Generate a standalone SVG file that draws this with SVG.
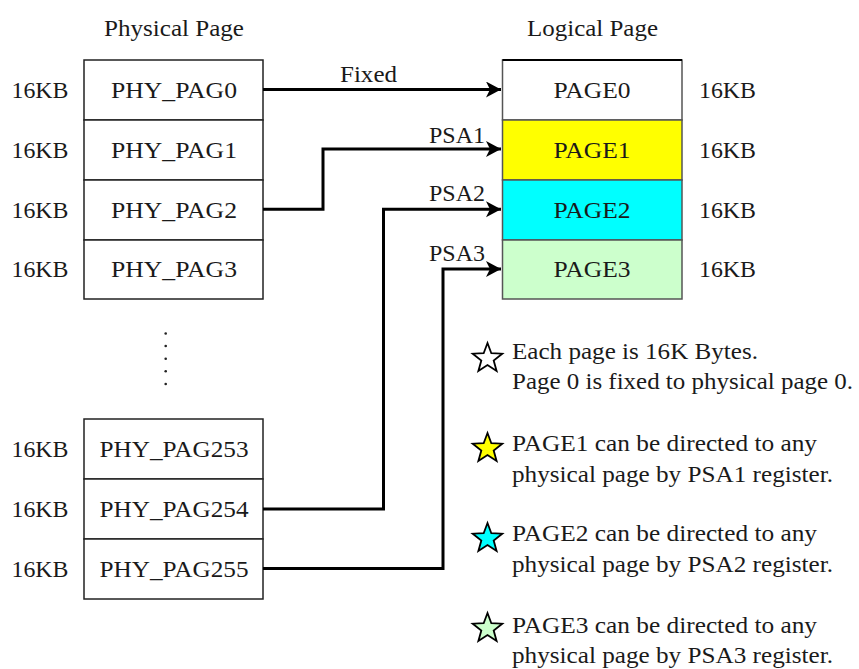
<svg xmlns="http://www.w3.org/2000/svg" width="859" height="669" viewBox="0 0 859 669">
<style>
text{font-family:"Liberation Serif","Times New Roman",serif;font-size:23px;fill:#1a1a1a}
.m{text-anchor:middle}
.e{text-anchor:end}
.cell{stroke:#222;stroke-width:1.5}
.lcell{stroke:#555;stroke-width:1.5}
.conn{fill:none;stroke:#000;stroke-width:3}
.star{stroke:#000;stroke-width:1.8;stroke-linejoin:miter}
</style>
<defs>
<marker id="arr" markerUnits="userSpaceOnUse" markerWidth="16" markerHeight="18" refX="15" refY="8" orient="auto">
<path d="M0,0 L15,8 L0,16 L4,8 z" fill="#000"/>
</marker>
<path id="star" d="M0,-15.5 L3.82,-5.26 L14.74,-4.79 L6.18,2.01 L9.11,12.54 L0,6.5 L-9.11,12.54 L-6.18,2.01 L-14.74,-4.79 L-3.82,-5.26 Z"/>
</defs>
<rect width="859" height="669" fill="#fff"/>
<text class="m" x="174" y="36" textLength="140" lengthAdjust="spacingAndGlyphs">Physical Page</text>
<text class="m" x="592.5" y="36" textLength="131" lengthAdjust="spacingAndGlyphs">Logical Page</text>
<g id="phy0"><rect class="cell" x="84" y="60" width="179" height="60" fill="#fff"/><text class="m" x="174" y="97.5" textLength="126" lengthAdjust="spacingAndGlyphs">PHY_PAG0</text><text x="11.5" y="97.5" textLength="57" lengthAdjust="spacingAndGlyphs">16KB</text></g>
<g id="phy1"><rect class="cell" x="84" y="120" width="179" height="60" fill="#fff"/><text class="m" x="174" y="157.5" textLength="126" lengthAdjust="spacingAndGlyphs">PHY_PAG1</text><text x="11.5" y="157.5" textLength="57" lengthAdjust="spacingAndGlyphs">16KB</text></g>
<g id="phy2"><rect class="cell" x="84" y="180" width="179" height="60" fill="#fff"/><text class="m" x="174" y="217.5" textLength="126" lengthAdjust="spacingAndGlyphs">PHY_PAG2</text><text x="11.5" y="217.5" textLength="57" lengthAdjust="spacingAndGlyphs">16KB</text></g>
<g id="phy3"><rect class="cell" x="84" y="240" width="179" height="59" fill="#fff"/><text class="m" x="174" y="277" textLength="126" lengthAdjust="spacingAndGlyphs">PHY_PAG3</text><text x="11.5" y="277" textLength="57" lengthAdjust="spacingAndGlyphs">16KB</text></g>
<g id="dots" fill="#222"><circle cx="165.7" cy="333.5" r="1.3"/><circle cx="165.7" cy="346" r="1.3"/><circle cx="165.7" cy="358.7" r="1.3"/><circle cx="165.7" cy="371.3" r="1.3"/><circle cx="165.7" cy="384" r="1.3"/></g>
<g id="phy253"><rect class="cell" x="84" y="419" width="179" height="60" fill="#fff"/><text class="m" x="174" y="456.5" textLength="149" lengthAdjust="spacingAndGlyphs">PHY_PAG253</text><text x="11.5" y="456.5" textLength="57" lengthAdjust="spacingAndGlyphs">16KB</text></g>
<g id="phy254"><rect class="cell" x="84" y="479" width="179" height="60" fill="#fff"/><text class="m" x="174" y="516.5" textLength="149" lengthAdjust="spacingAndGlyphs">PHY_PAG254</text><text x="11.5" y="516.5" textLength="57" lengthAdjust="spacingAndGlyphs">16KB</text></g>
<g id="phy255"><rect class="cell" x="84" y="539" width="179" height="60" fill="#fff"/><text class="m" x="174" y="576.5" textLength="149" lengthAdjust="spacingAndGlyphs">PHY_PAG255</text><text x="11.5" y="576.5" textLength="57" lengthAdjust="spacingAndGlyphs">16KB</text></g>
<g id="page0"><rect class="lcell" x="502.5" y="60" width="179.5" height="60" fill="#fff"/><line x1="502.5" y1="60" x2="682" y2="60" stroke="#000" stroke-width="2"/><text class="m" x="592" y="97.5" textLength="77" lengthAdjust="spacingAndGlyphs">PAGE0</text><text x="699" y="97.5" textLength="57" lengthAdjust="spacingAndGlyphs">16KB</text></g>
<g id="page1"><rect class="lcell" x="502.5" y="120" width="179.5" height="60" fill="#ffff00"/><text class="m" x="592" y="157.5" textLength="77" lengthAdjust="spacingAndGlyphs">PAGE1</text><text x="699" y="157.5" textLength="57" lengthAdjust="spacingAndGlyphs">16KB</text></g>
<g id="page2"><rect class="lcell" x="502.5" y="180" width="179.5" height="60" fill="#00ffff"/><text class="m" x="592" y="217.5" textLength="77" lengthAdjust="spacingAndGlyphs">PAGE2</text><text x="699" y="217.5" textLength="57" lengthAdjust="spacingAndGlyphs">16KB</text></g>
<g id="page3"><rect class="lcell" x="502.5" y="240" width="179.5" height="59" fill="#ccffcc"/><text class="m" x="592" y="277" textLength="77" lengthAdjust="spacingAndGlyphs">PAGE3</text><text x="699" y="277" textLength="57" lengthAdjust="spacingAndGlyphs">16KB</text></g>
<g id="connectors">
<path class="conn" d="M263,89.5 H501" marker-end="url(#arr)"/>
<path class="conn" d="M263,209.3 H323 V149 H501" marker-end="url(#arr)"/>
<path class="conn" d="M263,509 H383.5 V209.3 H501" marker-end="url(#arr)"/>
<path class="conn" d="M263,568.5 H443 V269 H501" marker-end="url(#arr)"/>
<text class="m" x="368.5" y="82" textLength="57" lengthAdjust="spacingAndGlyphs">Fixed</text>
<text class="e" x="485" y="142.5" textLength="56" lengthAdjust="spacingAndGlyphs">PSA1</text>
<text class="e" x="485" y="200.5" textLength="56" lengthAdjust="spacingAndGlyphs">PSA2</text>
<text class="e" x="485" y="260.5" textLength="56" lengthAdjust="spacingAndGlyphs">PSA3</text>
</g>
<g id="legend">
<use href="#star" class="star" x="487.5" y="358.5" fill="#fff"/>
<use href="#star" class="star" x="487.5" y="448.5" fill="#ffff00"/>
<use href="#star" class="star" x="487.5" y="538.5" fill="#00ffff"/>
<use href="#star" class="star" x="487.5" y="628.5" fill="#ccffcc"/>
<text x="512" y="359" textLength="246" lengthAdjust="spacingAndGlyphs">Each page is 16K Bytes.</text>
<text x="512" y="389" textLength="341" lengthAdjust="spacingAndGlyphs">Page 0 is fixed to physical page 0.</text>
<text x="512" y="451" textLength="305" lengthAdjust="spacingAndGlyphs">PAGE1 can be directed to any</text>
<text x="512" y="482" textLength="321" lengthAdjust="spacingAndGlyphs">physical page by PSA1 register.</text>
<text x="512" y="541" textLength="305" lengthAdjust="spacingAndGlyphs">PAGE2 can be directed to any</text>
<text x="512" y="572" textLength="321" lengthAdjust="spacingAndGlyphs">physical page by PSA2 register.</text>
<text x="512" y="633" textLength="305" lengthAdjust="spacingAndGlyphs">PAGE3 can be directed to any</text>
<text x="512" y="663" textLength="321" lengthAdjust="spacingAndGlyphs">physical page by PSA3 register.</text>
</g>
</svg>
